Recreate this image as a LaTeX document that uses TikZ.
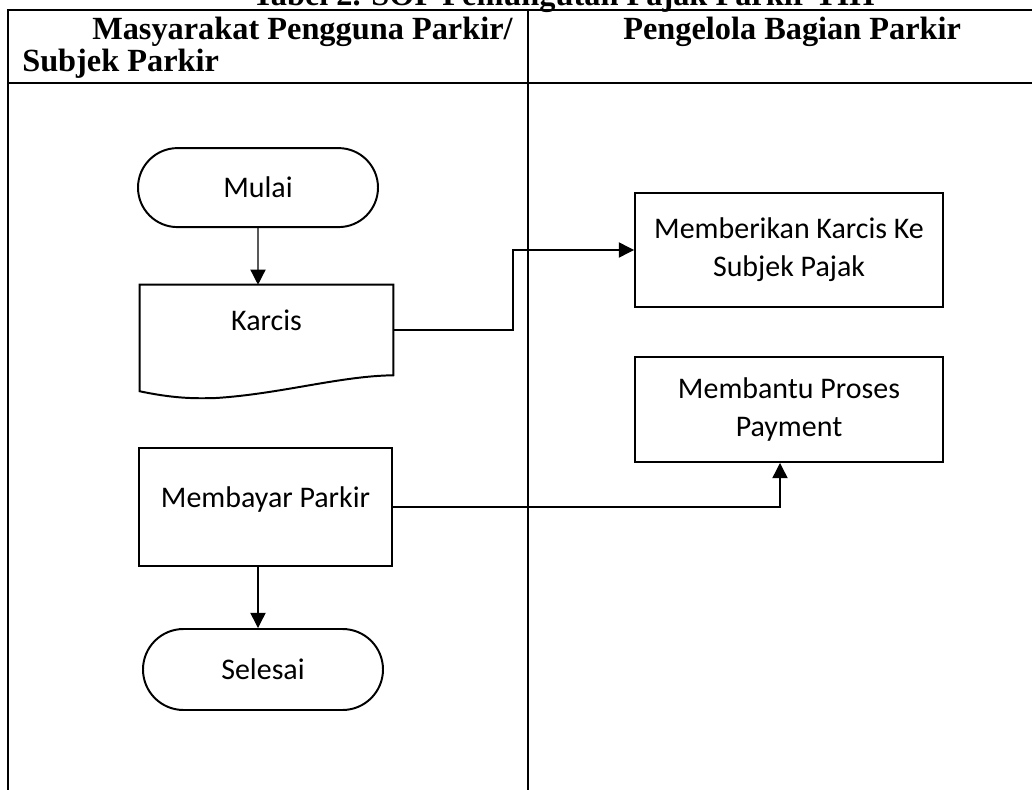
\documentclass[tikz,border=0pt]{standalone}
\usepackage{fontspec}
\setmainfont{Carlito}
\newfontfamily\hdfont{Liberation Serif}
\usetikzlibrary{shapes,arrows.meta,positioning,calc}
\tikzstyle{l2}=[line width=1.4pt]
\tikzstyle{l1}=[line width=1pt]
\tikzstyle{body}=[font=\fontsize{21.3}{27}\selectfont]
\tikzstyle{term}=[rounded rectangle, draw=black, l2, body, minimum width=6cm, inner sep=0pt]
\tikzstyle{proc}=[rectangle, draw=black, l2, body, align=center, inner sep=0pt]
\tikzstyle{hi}=[text height=0pt, text depth=0pt]
\tikzstyle{conn}=[l1, -{Triangle[length=0.38cm,width=0.38cm]}]
\tikzstyle{hdr}=[font=\hdfont\bfseries\fontsize{23}{28}\selectfont, inner sep=0pt, anchor=base west]

\begin{document}
\begin{tikzpicture}
    \useasboundingbox (0,0) rectangle (25.8,-19.75);
    % table frame
    \draw[l2] (0.2,-19.75) -- (0.2,-0.25) -- (25.8,-0.25);
    \draw[l2] (0.2,-2.075) -- (25.8,-2.075);
    \draw[l2] (13.2,-0.25) -- (13.2,-19.75);
    \node[hdr] (title) at (6.3,-0.15) {Tabel 2. SOP Pemungutan Pajak Parkir TIH};
    \node[hdr] (lane1a) at (2.3,-0.98) {Masyarakat Pengguna Parkir/};
    \node[hdr] (lane1b) at (0.55,-1.78) {Subjek Parkir};
    \node[hdr] (lane2) at (15.575,-0.98) {Pengelola Bagian Parkir};

    % left lane
    \node[term, minimum height=1.975cm] at (6.45,-4.69) (mulai) {Mulai};
    \node[body, hi, minimum width=6.325cm, minimum height=2.25cm, inner sep=0pt] at (6.6625,-8.25) (karcis) {Karcis};
    \draw[l2] (karcis.south east) -- (karcis.north east) -- (karcis.north west) -- ([yshift=-0.4cm]karcis.south west)
        .. controls (4.3,-9.95) and (4.8,-9.97) .. (5.4,-9.95)
        .. controls (7.0,-9.85) and (8.5,-9.4) .. (karcis.south east) -- cycle;
    \node[proc, hi, minimum width=6.325cm, minimum height=2.95cm] at (6.6375,-12.675) (bayar) {Membayar Parkir};
    \node[term, minimum height=2.025cm] at (6.575,-16.7375) (selesai) {Selesai};

    % right lane
    \node[proc, minimum width=7.7cm, minimum height=2.85cm] at (19.725,-6.25) (beri) {Memberikan Karcis Ke\\Subjek Pajak};
    \node[proc, minimum width=7.7cm, minimum height=2.625cm] at (19.725,-10.2375) (bantu) {Membantu Proses\\Payment};

    \coordinate (bend) at (12.825,-8.3);
    \draw[conn] (mulai) -- (mulai |- karcis.north);
    \draw[conn] (karcis.east) -| (bend |- beri.west) -- (beri.west);
    \draw[conn] (bayar.east) -| ([xshift=-0.225cm]bantu.south);
    \draw[conn] (bayar.south -| mulai) -- (mulai |- selesai.north);
\end{tikzpicture}
\end{document}
